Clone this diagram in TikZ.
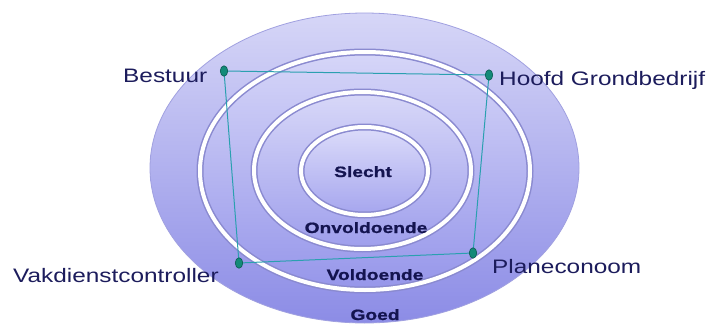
\documentclass[tikz,border=0pt]{standalone}
\usepackage{fontspec}
\setmainfont{Liberation Sans}
\newfontfamily\outerfont[FakeStretch=1.25]{Liberation Sans}
\newfontfamily\ringfont[FakeStretch=1.28,FakeBold=1]{Liberation Sans Bold}
\usetikzlibrary{shapes.geometric}
\definecolor{lbltxt}{HTML}{1C1C5C}
\definecolor{ringtxt}{HTML}{141450}
\definecolor{teal1}{HTML}{138A78}
\definecolor{teal2}{HTML}{0A5A50}
\definecolor{tline}{HTML}{2AA0B0}
\definecolor{ringedge}{HTML}{8A8AD0}
\tikzset{
  outerlbl/.style={inner sep=0pt, anchor=base west, text=lbltxt, font=\outerfont\fontsize{19.5}{22}\selectfont},
  ringlbl/.style={inner sep=0pt, anchor=base, text=ringtxt, font=\ringfont\fontsize{15}{17}\selectfont},
  dot/.style={ellipse, minimum width=7.5pt, minimum height=10.5pt, inner sep=0pt, fill=teal1, draw=teal2, line width=0.6pt},
  conn/.style={tline, line width=1pt},
  ringband/.style={draw=ringedge, line width=7pt},
  ringwhite/.style={draw=white, line width=4pt}
}
\begin{document}
\begin{tikzpicture}[x=1pt,y=-1pt]
\useasboundingbox (0,0) rectangle (712,324);
\fill[white] (0,0) rectangle (712,324);
\clip (0,0) rectangle (712,324);
% outer ellipse
\shade[top color= {rgb,255:red,214;green,214;blue,247}, bottom color={rgb,255:red,140;green,140;blue,230}] (364.5,168) ellipse (214.5 and 155);
\draw[color={rgb,255:red,160;green,160;blue,224}, line width=0.8pt] (364.5,168) ellipse (214.5 and 155);
% ring 2
\shade[top color={rgb,255:red,214;green,214;blue,248}, bottom color={rgb,255:red,150;green,150;blue,234}] (365,171) ellipse (165 and 119);
\draw[ringband] (365,171) ellipse (165 and 119);
\draw[ringwhite] (365,171) ellipse (165 and 119);
% ring 3
\shade[top color={rgb,255:red,216;green,216;blue,248}, bottom color={rgb,255:red,158;green,158;blue,236}] (362.5,170.5) ellipse (108.5 and 78.5);
\draw[ringband] (362.5,170.5) ellipse (108.5 and 78.5);
\draw[ringwhite] (362.5,170.5) ellipse (108.5 and 78.5);
% ring 4
\shade[top color={rgb,255:red,220;green,220;blue,250}, bottom color={rgb,255:red,165;green,165;blue,238}] (364.5,171) ellipse (63.5 and 44);
\draw[ringband] (364.5,171) ellipse (63.5 and 44);
\draw[ringwhite] (364.5,171) ellipse (63.5 and 44);
% ring labels
\node[ringlbl] (slecht) at (363,177) {Slecht};
\node[ringlbl] (onv) at (366,233) {Onvoldoende};
\node[ringlbl] (vold) at (375,280) {Voldoende};
\node[ringlbl] (goed) at (375,320) {Goed};
% connector corners
\coordinate (cb) at (224,71);
\coordinate (ch) at (489,75);
\coordinate (cv) at (239,263);
\coordinate (cp) at (473,253);
\draw[conn] (cb) -- (ch) -- (cp) -- (cv) -- cycle;
% dots
\node[dot] (b) at (cb) {};
\node[dot] (h) at (ch) {};
\node[dot] (v) at (cv) {};
\node[dot] (p) at (cp) {};
% outer labels
\node[outerlbl] (lb) at (123,82) {Bestuur};
\node[outerlbl] (lh) at (499,85) {Hoofd Grondbedrijf};
\node[outerlbl] (lv) at (13,282) {Vakdienstcontroller};
\node[outerlbl] (lp) at (492,273) {Planeconoom};
\end{tikzpicture}
\end{document}
